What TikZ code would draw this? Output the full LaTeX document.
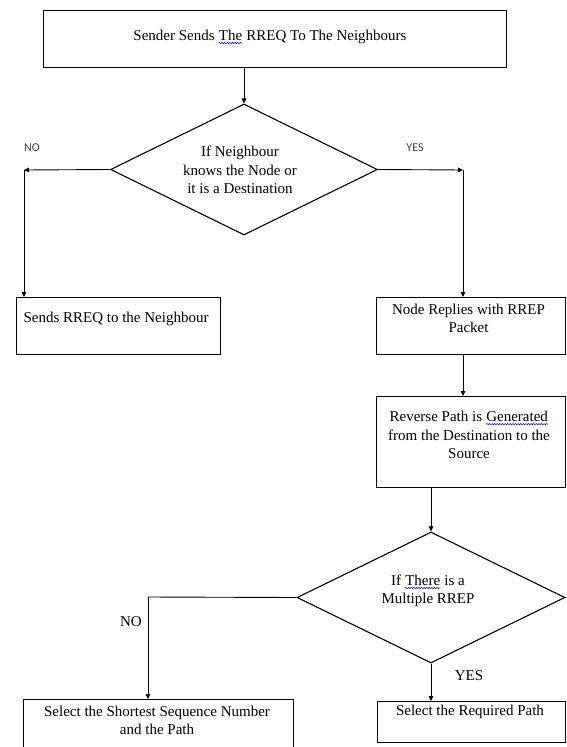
\documentclass[tikz,border=0pt]{standalone}
\usepackage{fontspec}
\setmainfont{Liberation Serif}
\newfontfamily\labfont{Carlito}
\usetikzlibrary{shapes.geometric,arrows.meta,decorations.pathmorphing}
\newcommand\spellerr[1]{\tikz[baseline=(W.base)]{\node[inner sep=0pt,anchor=base] (W) {#1};
  \draw[blue, line width=0.5pt, decorate, decoration={snake,amplitude=0.7pt,segment length=2.6pt}]
  ([yshift=-2.2pt]W.south west) -- ([yshift=-2.2pt]W.south east);}}
\begin{document}
\begin{tikzpicture}[x=1pt,y=-1pt,
  box/.style={draw, line width=1.1pt, inner sep=0pt, anchor=north west},
  dia/.style={draw, diamond, line width=1.1pt, inner sep=0pt},
  txt/.style={align=center, font=\fontsize{15}{18.5}\selectfont, inner sep=0pt},
  lab/.style={font=\labfont\fontsize{12}{14}\selectfont, text=black!75, inner sep=0pt},
  ln/.style={line width=0.9pt},
  arr/.style={line width=0.9pt, -{Triangle[length=5pt,width=4.5pt]}}]
\clip (0,0) rectangle (566,747);
\fill[white] (0,0) rectangle (566,747);

% boxes
\node[box, minimum width=463pt, minimum height=57pt] (top) at (43,10) {};
\node[box, minimum width=204pt, minimum height=57pt] (left) at (16,297) {};
\node[box, minimum width=189pt, minimum height=57pt] (nr) at (376,297) {};
\node[box, minimum width=189pt, minimum height=91pt] (rev) at (376,396) {};
\node[box, minimum width=270pt, minimum height=80pt] (sl) at (23,699) {};
\node[box, minimum width=188pt, minimum height=41pt] (sel) at (377,701) {};

% diamonds
\node[dia, minimum width=267pt, minimum height=131pt] (d1) at (244,169.5) {};
\node[dia, minimum width=268pt, minimum height=131pt] (d2) at (431,597.5) {};

% texts
\node[txt] (ttop) at (270,37) {Sender Sends \spellerr{The} RREQ To The Neighbours};
\node[txt] (tleft) at (116,319) {Sends RREQ to the Neighbour};
\node[txt] (tnr) at (468.5,318.5) {Node Replies with RREP\\Packet};
\node[txt] (trev) at (469,435) {Reverse Path is \spellerr{Generated}\\from the Destination to the\\Source};
\node[txt] (td1) at (240,170) {If Neighbour\\knows the Node or\\it is a Destination};
\node[txt] (td2) at (428,591) {If \spellerr{There} is a\\Multiple RREP};
\node[txt] (tsl) at (157,720.5) {Select the Shortest Sequence Number\\and the Path};
\node[txt] (tsel) at (470,712) {Select the Required Path};

% labels
\node[lab] (no1) at (32,148) {NO};
\node[lab] (yes1) at (415,148) {YES};
\node[txt] (no2) at (131,622) {NO};
\node[txt] (yes2) at (469,676) {YES};

% corner coordinates
\coordinate (c1) at (24,170);
\coordinate (c2) at (463,170);
\coordinate (c3) at (148,597);

% connectors
\draw[arr] (top.south -| d1.north) -- (d1.north);
\draw[arr] (d1.west) -- (c1);
\draw[arr] (c1) -- (left.north -| c1);
\draw[arr] (d1.east) -- (c2);
\draw[arr] (c2) -- (nr.north -| c2);
\draw[arr] (nr.south -| c2) -- (rev.north -| c2);
\draw[arr] (rev.south -| d2.north) -- (d2.north);
\draw[ln] (d2.west) -- (c3);
\draw[arr] (c3) -- (sl.north -| c3);
\draw[arr] (d2.south) -- (sel.north -| d2.south);
\end{tikzpicture}
\end{document}
